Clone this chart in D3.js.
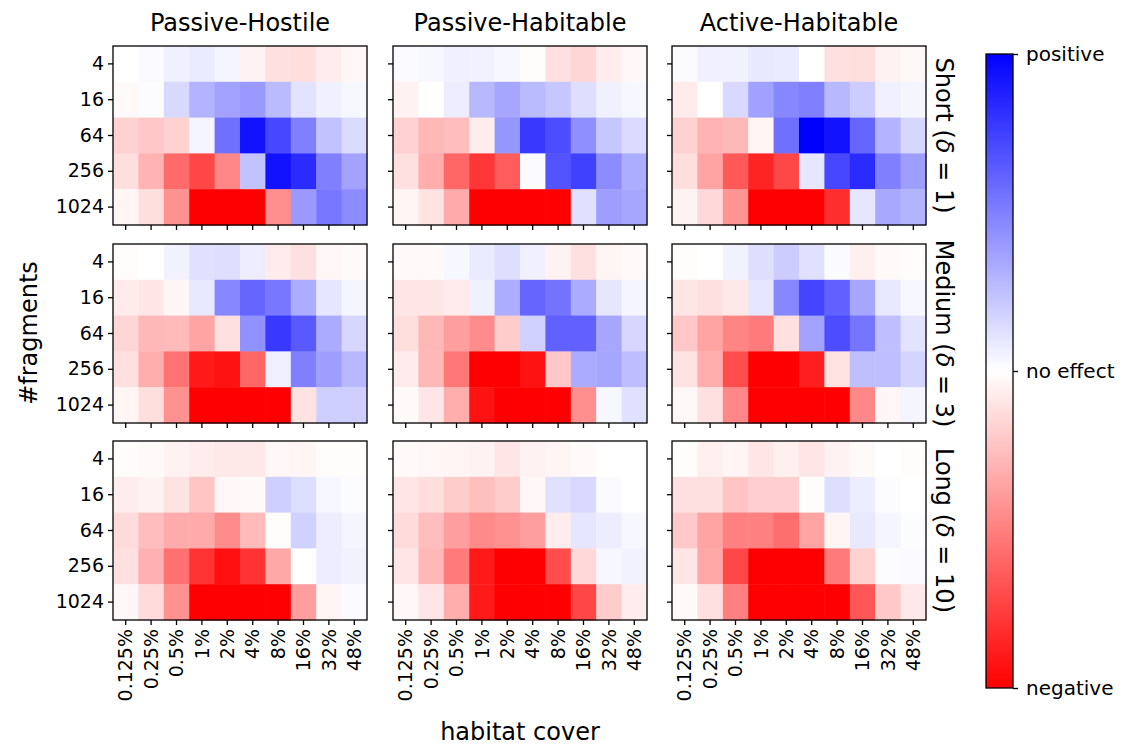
<!DOCTYPE html>
<html>
<head>
<meta charset="utf-8">
<script src="https://cdn.jsdelivr.net/npm/d3@7/dist/d3.min.js"></script>
<style>
  body { margin: 0; background: #fff; }
  svg { font-family: "DejaVu Sans", sans-serif; }
</style>
</head>
<body>
<svg id="chart" width="1126" height="747"></svg>
<script>
// Axis categories
const coverLabels = ["0.125%", "0.25%", "0.5%", "1%", "2%", "4%", "8%", "16%", "32%", "48%"];
const fragmentLabels = ["4", "16", "64", "256", "1024"];
const modelTitles = ["Passive-Hostile", "Passive-Habitable", "Active-Habitable"];
const distanceNames = ["Short", "Medium", "Long"];
const distanceDeltas = ["1", "3", "10"];
const colorbarLabels = ["positive", "no effect", "negative"];

// Effect values, rows = #fragments (4 .. 1024), columns = habitat cover
const shortPassiveHostile = [
  [0.00, 0.02, 0.06, 0.08, 0.04, -0.05, -0.12, -0.13, -0.07, -0.03],
  [-0.02, 0.01, 0.15, 0.30, 0.36, 0.40, 0.27, 0.11, 0.06, 0.03],
  [-0.18, -0.22, -0.18, 0.04, 0.56, 0.93, 0.72, 0.50, 0.24, 0.14],
  [-0.13, -0.30, -0.58, -0.72, -0.47, 0.24, 0.93, 0.83, 0.50, 0.36],
  [-0.04, -0.13, -0.43, -1.00, -1.00, -1.00, -0.44, 0.40, 0.53, 0.45]
];
const shortPassiveHabitable = [
  [0.02, 0.03, 0.06, 0.05, 0.03, -0.01, -0.12, -0.16, -0.07, -0.03],
  [-0.05, 0.00, 0.07, 0.28, 0.35, 0.27, 0.22, 0.13, 0.06, 0.03],
  [-0.18, -0.28, -0.26, -0.07, 0.41, 0.78, 0.70, 0.44, 0.22, 0.14],
  [-0.12, -0.32, -0.60, -0.79, -0.64, 0.02, 0.67, 0.75, 0.45, 0.32],
  [-0.04, -0.11, -0.33, -1.00, -1.00, -1.00, -1.00, 0.12, 0.38, 0.35]
];
const shortActiveHabitable = [
  [0.02, 0.06, 0.05, 0.09, 0.08, 0.00, -0.12, -0.13, -0.05, -0.03],
  [-0.08, 0.00, 0.15, 0.37, 0.47, 0.50, 0.28, 0.20, 0.06, 0.04],
  [-0.18, -0.30, -0.28, -0.04, 0.56, 1.00, 0.93, 0.60, 0.30, 0.16],
  [-0.13, -0.36, -0.65, -0.86, -0.72, 0.10, 0.72, 0.83, 0.50, 0.38],
  [-0.05, -0.15, -0.42, -1.00, -1.00, -1.00, -0.82, 0.10, 0.34, 0.30]
];
const mediumPassiveHostile = [
  [-0.01, 0.00, 0.05, 0.12, 0.13, 0.07, -0.08, -0.12, -0.03, -0.02],
  [-0.08, -0.10, -0.03, 0.09, 0.47, 0.60, 0.53, 0.32, 0.10, 0.04],
  [-0.16, -0.28, -0.27, -0.36, -0.12, 0.43, 0.78, 0.65, 0.33, 0.16],
  [-0.12, -0.32, -0.55, -0.90, -0.93, -0.60, 0.06, 0.50, 0.38, 0.28],
  [-0.04, -0.13, -0.43, -1.00, -1.00, -1.00, -1.00, -0.11, 0.19, 0.19]
];
const mediumPassiveHabitable = [
  [-0.02, -0.02, 0.03, 0.08, 0.13, 0.06, -0.05, -0.12, -0.04, -0.02],
  [-0.10, -0.10, -0.08, 0.06, 0.32, 0.60, 0.55, 0.33, 0.10, 0.04],
  [-0.13, -0.28, -0.38, -0.45, -0.20, 0.18, 0.62, 0.62, 0.35, 0.16],
  [-0.08, -0.28, -0.53, -1.00, -1.00, -0.93, -0.22, 0.33, 0.35, 0.26],
  [-0.02, -0.10, -0.32, -0.93, -1.00, -1.00, -1.00, -0.44, 0.03, 0.12]
];
const mediumActiveHabitable = [
  [-0.01, 0.00, 0.05, 0.13, 0.20, 0.12, 0.02, -0.06, -0.02, -0.01],
  [-0.10, -0.12, -0.09, 0.10, 0.47, 0.73, 0.62, 0.35, 0.09, 0.03],
  [-0.22, -0.36, -0.48, -0.52, -0.12, 0.36, 0.70, 0.54, 0.25, 0.11],
  [-0.11, -0.32, -0.70, -1.00, -1.00, -0.88, -0.11, 0.25, 0.25, 0.17],
  [-0.03, -0.12, -0.47, -1.00, -1.00, -1.00, -1.00, -0.47, -0.03, 0.04]
];
const longPassiveHostile = [
  [-0.01, -0.02, -0.05, -0.07, -0.09, -0.09, -0.03, -0.04, -0.01, -0.01],
  [-0.07, -0.05, -0.11, -0.23, -0.03, -0.02, 0.19, 0.13, 0.03, 0.01],
  [-0.14, -0.26, -0.33, -0.33, -0.45, -0.27, -0.01, 0.18, 0.07, 0.04],
  [-0.12, -0.31, -0.56, -0.80, -0.94, -0.80, -0.34, 0.00, 0.07, 0.05],
  [-0.03, -0.14, -0.43, -1.00, -1.00, -1.00, -1.00, -0.38, -0.04, 0.02]
];
const longPassiveHabitable = [
  [-0.02, -0.03, -0.04, -0.05, -0.10, -0.05, -0.04, -0.02, 0.00, 0.00],
  [-0.10, -0.13, -0.20, -0.25, -0.20, -0.03, 0.12, 0.15, 0.02, 0.00],
  [-0.14, -0.26, -0.38, -0.46, -0.43, -0.38, -0.07, 0.10, 0.07, 0.03],
  [-0.10, -0.28, -0.52, -0.90, -1.00, -1.00, -0.70, -0.15, 0.03, 0.05],
  [-0.03, -0.10, -0.32, -0.90, -1.00, -1.00, -1.00, -0.72, -0.20, -0.07]
];
const longActiveHabitable = [
  [-0.01, -0.06, -0.04, -0.10, -0.06, -0.10, -0.05, -0.02, 0.00, -0.01],
  [-0.12, -0.12, -0.23, -0.19, -0.19, -0.01, 0.13, 0.07, 0.01, 0.00],
  [-0.21, -0.36, -0.50, -0.50, -0.57, -0.36, -0.04, 0.09, 0.04, 0.01],
  [-0.10, -0.34, -0.72, -1.00, -1.00, -1.00, -0.52, -0.18, 0.01, 0.02],
  [-0.02, -0.12, -0.50, -1.00, -1.00, -1.00, -1.00, -0.66, -0.21, -0.09]
];

// Panel grid: rows = dispersal distance, columns = movement model
const grid = [
  [shortPassiveHostile, shortPassiveHabitable, shortActiveHabitable],
  [mediumPassiveHostile, mediumPassiveHabitable, mediumActiveHabitable],
  [longPassiveHostile, longPassiveHabitable, longActiveHabitable]
];

const svg = d3.select("#chart");

const panelLeft = [113, 393, 672];
const panelTop = [46, 244, 441];
const panelW = 254, panelH = 179;
const tickFont = 19, labelFont = 24;

// Diverging blue-white-red map, negative -> red, positive -> blue
const color = d3.scaleLinear()
  .domain([-1, 0, 1])
  .range(["#ff0000", "#ffffff", "#0000ff"])
  .clamp(true);

grid.forEach((rowPanels, r) => {
  rowPanels.forEach((values, c) => {
    const x0 = panelLeft[c], y0 = panelTop[r];
    const x = d3.scaleBand().domain(coverLabels).range([x0, x0 + panelW]);
    const y = d3.scaleBand().domain(fragmentLabels).range([y0, y0 + panelH]);

    const g = svg.append("g");

    const cells = [];
    values.forEach((row, i) => row.forEach((v, j) => cells.push({ f: fragmentLabels[i], h: coverLabels[j], v })));

    g.selectAll("rect.cell")
      .data(cells)
      .join("rect")
      .attr("class", "cell")
      .attr("x", d => x(d.h))
      .attr("y", d => y(d.f))
      .attr("width", x.bandwidth() + 0.5)
      .attr("height", y.bandwidth() + 0.5)
      .attr("fill", d => color(d.v));

    // Left axis
    const yAxis = d3.axisLeft(y).tickSize(5).tickPadding(4);
    if (c !== 0) yAxis.tickFormat("");
    const ya = g.append("g").attr("transform", `translate(${x0},0)`).call(yAxis);
    ya.select(".domain").remove();
    ya.selectAll("line").attr("stroke", "#000").attr("stroke-width", 1.3);
    ya.selectAll("text").attr("font-size", tickFont).attr("fill", "#000")
      .attr("font-family", "DejaVu Sans, sans-serif");

    // Bottom axis
    const xAxis = d3.axisBottom(x).tickSize(5).tickPadding(4);
    if (r !== 2) xAxis.tickFormat("");
    const xa = g.append("g").attr("transform", `translate(0,${y0 + panelH})`).call(xAxis);
    xa.select(".domain").remove();
    xa.selectAll("line").attr("stroke", "#000").attr("stroke-width", 1.3);
    xa.selectAll("text")
      .attr("font-size", tickFont).attr("fill", "#000")
      .attr("font-family", "DejaVu Sans, sans-serif")
      .attr("transform", "rotate(-90)")
      .attr("x", -9).attr("y", 0).attr("dy", "0.35em")
      .style("text-anchor", "end");

    // Frame
    g.append("rect")
      .attr("x", x0).attr("y", y0)
      .attr("width", panelW).attr("height", panelH)
      .attr("fill", "none").attr("stroke", "#000").attr("stroke-width", 1.3);

    // Column titles
    if (r === 0) {
      svg.append("text")
        .attr("x", x0 + panelW / 2).attr("y", 31)
        .attr("text-anchor", "middle")
        .attr("font-size", labelFont)
        .text(modelTitles[c]);
    }
    // Row labels on the right
    if (c === 2) {
      const t = svg.append("text")
        .attr("transform", `translate(${x0 + panelW + 10},${y0 + panelH / 2}) rotate(90)`)
        .attr("text-anchor", "middle")
        .attr("font-size", labelFont);
      t.append("tspan").text(distanceNames[r] + " (");
      t.append("tspan").attr("font-style", "italic").text("δ");
      t.append("tspan").text(" = " + distanceDeltas[r] + ")");
    }
  });
});

// Shared axis labels
svg.append("text")
  .attr("x", panelLeft[1] + panelW / 2).attr("y", 740)
  .attr("text-anchor", "middle")
  .attr("font-size", labelFont)
  .text("habitat cover");

svg.append("text")
  .attr("transform", `translate(37,${(panelTop[0] + panelTop[2] + panelH) / 2}) rotate(-90)`)
  .attr("text-anchor", "middle")
  .attr("font-size", labelFont)
  .text("#fragments");

// Colorbar
const cbX = 986, cbW = 27, cbTop = 54, cbBottom = 688;
const defs = svg.append("defs");
const grad = defs.append("linearGradient")
  .attr("id", "effectGradient")
  .attr("x1", 0).attr("y1", 0).attr("x2", 0).attr("y2", 1);
d3.range(0, 1.0001, 0.05).forEach(t => {
  grad.append("stop").attr("offset", t).attr("stop-color", color(1 - 2 * t));
});
svg.append("rect")
  .attr("x", cbX).attr("y", cbTop)
  .attr("width", cbW).attr("height", cbBottom - cbTop)
  .attr("fill", "url(#effectGradient)")
  .attr("stroke", "#000").attr("stroke-width", 1.3);

const cbScale = d3.scalePoint().domain(colorbarLabels).range([cbTop, cbBottom]);
const cbAxis = d3.axisRight(cbScale).tickSize(5).tickPadding(8);
const cba = svg.append("g").attr("transform", `translate(${cbX + cbW},0)`).call(cbAxis);
cba.select(".domain").remove();
cba.selectAll("line").attr("stroke", "#000").attr("stroke-width", 1.3);
cba.selectAll("text").attr("font-size", 20).attr("fill", "#000")
  .attr("font-family", "DejaVu Sans, sans-serif");
</script>
</body>
</html>
